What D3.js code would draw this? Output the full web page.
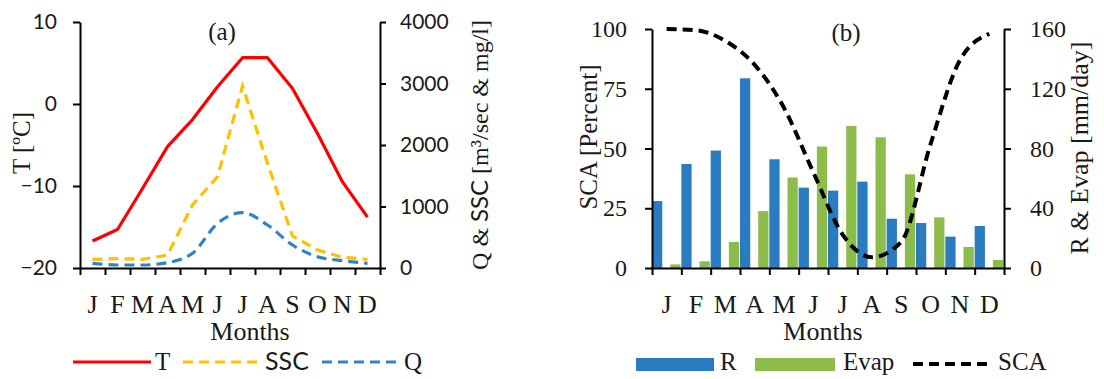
<!DOCTYPE html>
<html>
<head>
<meta charset="utf-8">
<script src="https://cdn.jsdelivr.net/npm/d3@7"></script>
<style>
  html, body { margin: 0; padding: 0; background: #fff; }
  svg { display: block; }
  .axis path, .axis line { stroke: #000; stroke-width: 2; }
</style>
</head>
<body>
<div id="chart"></div>
<script>
// month labels (shared by both panels)
const months = ['J', 'F', 'M', 'A', 'M', 'J', 'J', 'A', 'S', 'O', 'N', 'D'];

// panel (a)
const temperature = [-16.7, -15.3, -10.3, -5.2, -1.9, 2.1, 5.65, 5.65, 1.9, -3.6, -9.5, -13.8]; // °C
const ssc = [141, 151, 141, 211, 1024, 1485, 2959, 1702, 520, 293, 174, 141];                   // mg/l
const discharge = [76, 49, 49, 87, 239, 726, 900, 699, 374, 184, 119, 76];                       // m3/sec
const tTicks = [-20, -10, 0, 10];
const qTicks = [0, 1000, 2000, 3000, 4000];

// panel (b)
const rain = [44.8, 69.6, 78.6, 127, 72.8, 53.8, 51.8, 57.8, 33, 30.1, 21, 28.1];   // mm/day
const evap = [2.4, 4.5, 17.4, 38.1, 60.6, 81.3, 95.1, 87.5, 62.7, 33.9, 14.1, 5.4]; // mm/day
const sca = [100, 99.5, 95, 85, 67, 40, 14, 4.5, 11, 52, 87, 98];                     // percent
const scaTicks = [0, 25, 50, 75, 100];
const mmTicks = [0, 40, 80, 120, 160];

const SERIF = "'Liberation Serif', 'Times New Roman', serif";
const SANS = "Lato, 'Open Sans', sans-serif";
const TEXT = '#1a1a1a';

const width = 1104, height = 379;
const svg = d3.select('#chart').append('svg')
  .attr('width', width)
  .attr('height', height);

function styleText(sel, family, size) {
  sel.style('font-family', family).style('font-size', size + 'px').attr('fill', TEXT);
}

// ticks on month boundaries + letters centred in each month
function monthAxis(x, y0) {
  const edges = d3.scaleLinear().domain([0, 12]).range(x.range());
  svg.append('g')
    .attr('class', 'axis')
    .attr('transform', `translate(0,${y0})`)
    .call(d3.axisBottom(edges).ticks(12).tickSize(7).tickSizeOuter(0).tickFormat(''));

  svg.append('g')
    .attr('transform', `translate(0,${y0})`)
    .call(d3.axisBottom(x).tickSize(0).tickPadding(27).tickFormat(i => months[i]))
    .call(g => g.select('.domain').remove())
    .selectAll('text')
    .call(styleText, SERIF, 26);
}

function axisTitle(x, y, txt, size) {
  return svg.append('text')
    .attr('transform', `translate(${x},${y}) rotate(-90)`)
    .attr('text-anchor', 'middle')
    .text(txt)
    .call(styleText, SERIF, size);
}

// ---------------- panel (a) ----------------
const xa = d3.scaleBand().domain(d3.range(12)).range([80, 380]);
const yT = d3.scaleLinear().domain([-20, 10]).range([268, 22]);
const yQ = d3.scaleLinear().domain([0, 4000]).range([268, 22]);

svg.append('g')
  .attr('class', 'axis')
  .attr('transform', 'translate(80,0)')
  .call(d3.axisLeft(yT).tickValues(tTicks).tickSize(7).tickSizeOuter(0).tickPadding(16))
  .selectAll('text')
  .call(styleText, SANS, 21);

svg.append('g')
  .attr('class', 'axis')
  .attr('transform', 'translate(380,0)')
  .call(d3.axisRight(yQ).tickValues(qTicks).tickSize(6).tickSizeOuter(0).tickPadding(14).tickFormat(d3.format('d')))
  .selectAll('text')
  .call(styleText, SANS, 21);

monthAxis(xa, 268);

const cx = (x, i) => x(i) + x.bandwidth() / 2;

svg.append('path')
  .datum(temperature)
  .attr('fill', 'none')
  .attr('stroke', '#ff0000')
  .attr('stroke-width', 3.2)
  .attr('stroke-linejoin', 'round')
  .attr('d', d3.line().x((d, i) => cx(xa, i)).y(d => yT(d)));

svg.append('path')
  .datum(ssc)
  .attr('fill', 'none')
  .attr('stroke', '#ffc000')
  .attr('stroke-width', 3.2)
  .attr('stroke-dasharray', '10,6')
  .attr('d', d3.line().x((d, i) => cx(xa, i)).y(d => yQ(d)));

svg.append('path')
  .datum(discharge)
  .attr('fill', 'none')
  .attr('stroke', '#2e84c6')
  .attr('stroke-width', 3.2)
  .attr('stroke-dasharray', '10,6')
  .attr('d', d3.line().x((d, i) => cx(xa, i)).y(d => yQ(d)).curve(d3.curveMonotoneX));

svg.append('text').attr('x', 222).attr('y', 40).attr('text-anchor', 'middle')
  .text('(a)').call(styleText, SERIF, 25);

axisTitle(30, 143, 'T [ºC]', 25);

const qTitle = svg.append('text')
  .attr('transform', 'translate(488,145) rotate(-90)')
  .attr('text-anchor', 'middle')
  .call(styleText, SERIF, 24);
qTitle.append('tspan').text('Q & ');
qTitle.append('tspan').style('font-family', SANS).text('SSC');
qTitle.append('tspan').text(' [m³/sec & mg/l]');

svg.append('text').attr('x', 250).attr('y', 340).attr('text-anchor', 'middle')
  .text('Months').call(styleText, SERIF, 26);

// legend (a)
const legA = [
  { x: 73, label: 'T', color: '#ff0000', dash: null, font: SERIF },
  { x: 183, label: 'SSC', color: '#ffc000', dash: '10,6', font: SANS },
  { x: 322, label: 'Q', color: '#2e84c6', dash: '10,6', font: SERIF },
];
legA.forEach(l => {
  svg.append('line')
    .attr('x1', l.x).attr('x2', l.x + 78).attr('y1', 362).attr('y2', 362)
    .attr('stroke', l.color).attr('stroke-width', 3.2)
    .attr('stroke-dasharray', l.dash);
  svg.append('text').attr('x', l.x + 82).attr('y', 370)
    .text(l.label).call(styleText, l.font, 25);
});

// ---------------- panel (b) ----------------
const xb = d3.scaleBand().domain(d3.range(12)).range([652, 1004]);
const ySca = d3.scaleLinear().domain([0, 100]).range([268, 29]);
const yMm = d3.scaleLinear().domain([0, 160]).range([268, 29]);
const barW = xb.bandwidth() * 0.35;

svg.append('g').selectAll('rect.r')
  .data(rain)
  .enter().append('rect')
  .attr('x', (d, i) => xb(i))
  .attr('y', d => yMm(d))
  .attr('width', barW)
  .attr('height', d => yMm(0) - yMm(d))
  .attr('fill', '#2a7bc0');

svg.append('g').selectAll('rect.e')
  .data(evap)
  .enter().append('rect')
  .attr('x', (d, i) => xb(i) + xb.bandwidth() * 0.62)
  .attr('y', d => yMm(d))
  .attr('width', barW)
  .attr('height', d => yMm(0) - yMm(d))
  .attr('fill', '#8cbd4a');

svg.append('path')
  .datum(sca)
  .attr('fill', 'none')
  .attr('stroke', '#000')
  .attr('stroke-width', 4)
  .attr('stroke-dasharray', '10,6')
  .attr('d', d3.line().x((d, i) => cx(xb, i)).y(d => ySca(d)).curve(d3.curveMonotoneX));

svg.append('g')
  .attr('class', 'axis')
  .attr('transform', 'translate(652,0)')
  .call(d3.axisLeft(ySca).tickValues(scaTicks).tickSize(7).tickSizeOuter(0).tickPadding(18))
  .selectAll('text')
  .call(styleText, SERIF, 24);

svg.append('g')
  .attr('class', 'axis')
  .attr('transform', 'translate(1004,0)')
  .call(d3.axisRight(yMm).tickValues(mmTicks).tickSize(7).tickSizeOuter(0).tickPadding(19))
  .selectAll('text')
  .call(styleText, SERIF, 24);

monthAxis(xb, 268);

svg.append('text').attr('x', 846).attr('y', 41).attr('text-anchor', 'middle')
  .text('(b)').call(styleText, SERIF, 25);

axisTitle(597, 137, 'SCA [Percent]', 25);
axisTitle(1088, 148, 'R & Evap [mm/day]', 26);

svg.append('text').attr('x', 823).attr('y', 340).attr('text-anchor', 'middle')
  .text('Months').call(styleText, SERIF, 26);

// legend (b)
svg.append('rect').attr('x', 636).attr('y', 358).attr('width', 78).attr('height', 13).attr('fill', '#2a7bc0');
svg.append('text').attr('x', 720).attr('y', 370).text('R').call(styleText, SERIF, 25);
svg.append('rect').attr('x', 755).attr('y', 358).attr('width', 80).attr('height', 13).attr('fill', '#8cbd4a');
svg.append('text').attr('x', 843).attr('y', 370).text('Evap').call(styleText, SERIF, 25);
svg.append('line').attr('x1', 913).attr('x2', 990).attr('y1', 364).attr('y2', 364)
  .attr('stroke', '#000').attr('stroke-width', 4).attr('stroke-dasharray', '10,6');
svg.append('text').attr('x', 998).attr('y', 370).text('SCA').call(styleText, SERIF, 25);
</script>
</body>
</html>
